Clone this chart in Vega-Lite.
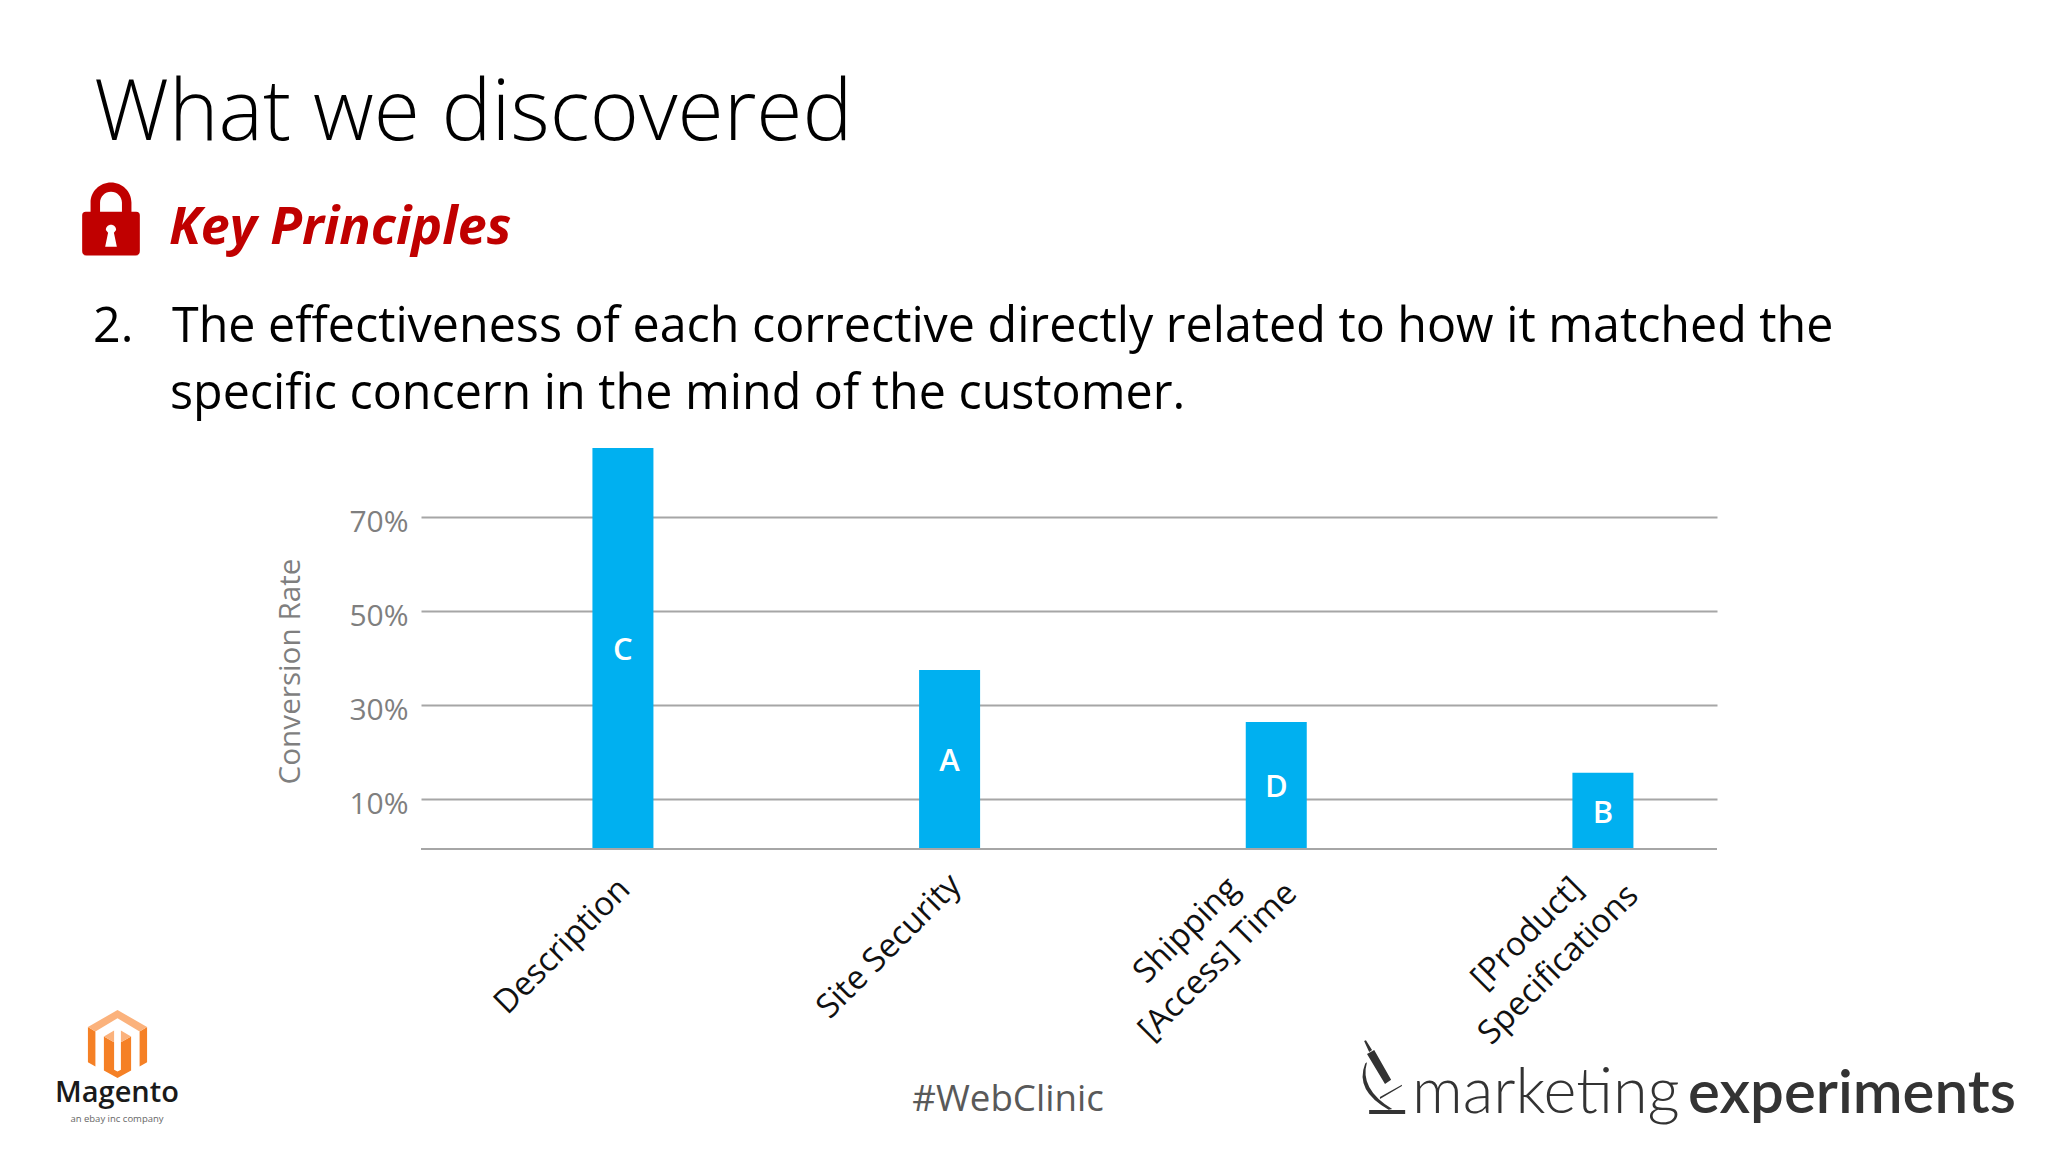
{
  "$schema": "https://vega.github.io/schema/vega-lite/v6.json",
  "width": 1296,
  "height": 401,
  "padding": {"left": 421, "top": 448, "right": 331, "bottom": 303},
  "autosize": "none",
  "background": "white",
  "config": {"view": {"stroke": null}, "font": "Open Sans"},
  "datasets": {
    "rates": [
      {"topic": "Description", "rate": 84.7, "treatment": "C"},
      {"topic": "Site Security", "rate": 37.5, "treatment": "A"},
      {"topic": "Shipping|[Access] Time", "rate": 26.4, "treatment": "D"},
      {"topic": "[Product]|Specifications", "rate": 15.6, "treatment": "B"}
    ]
  },
  "layer": [
    {
      "data": {"name": "rates"},
      "mark": {"type": "bar", "width": 61, "color": "#00b0f0"},
      "encoding": {
        "x": {
          "field": "topic",
          "type": "nominal",
          "sort": null,
          "scale": {"type": "point", "padding": 0.4837, "align": 0.639},
          "axis": {
            "title": null,
            "domain": false,
            "ticks": false,
            "labelAngle": -45,
            "labelAlign": "center",
            "labelBaseline": "middle",
            "labelFontSize": 33,
            "labelColor": "#111111",
            "labelPadding": {
              "condition": [
                {"test": "datum.value == 'Shipping|[Access] Time'", "value": 81},
                {"test": "datum.value == '[Product]|Specifications'", "value": 84}
              ],
              "value": 97
            },
            "labelOffset": {
              "condition": [
                {"test": "datum.value == 'Shipping|[Access] Time'", "value": -90},
                {"test": "datum.value == '[Product]|Specifications'", "value": -76}
              ],
              "value": -61
            },
            "labelLimit": 400,
            "labelExpr": "split(datum.label, '|')",
            "labelLineHeight": 44
          }
        },
        "y": {
          "field": "rate",
          "type": "quantitative",
          "scale": {"domain": [-0.6, 84.7], "nice": false, "zero": false},
          "axis": {
            "title": "Conversion Rate",
            "titleColor": "#7f7f7f",
            "titleFontSize": 29.7,
            "titleFontWeight": "normal",
            "titlePadding": 43,
            "titleY": 223,
            "values": [10, 30, 50, 70],
            "format": ".0f",
            "labelExpr": "datum.label + '%'",
            "domain": false,
            "ticks": false,
            "grid": true,
            "gridColor": "#a6a6a6",
            "gridWidth": 2,
            "labelColor": "#7f7f7f",
            "labelFontSize": 30,
            "labelPadding": 13,
            "labelOffset": 5
          }
        },
        "y2": {"datum": -0.6}
      }
    },
    {
      "data": {"name": "rates"},
      "transform": [{"calculate": "datum.rate / 2", "as": "middle"}],
      "mark": {"type": "text", "color": "white", "fontSize": 31, "fontWeight": 600, "dy": 4},
      "encoding": {
        "x": {"field": "topic", "type": "nominal", "sort": null},
        "y": {"field": "middle", "type": "quantitative"},
        "text": {"field": "treatment"}
      }
    },
    {
      "data": {"values": [{"floor": -0.6}]},
      "mark": {"type": "rule", "color": "#a6a6a6", "strokeWidth": 2},
      "encoding": {"y": {"field": "floor", "type": "quantitative"}}
    },
    {
      "data": {"values": [{"line": "What we discovered"}]},
      "mark": {"type": "text", "align": "left", "baseline": "alphabetic", "fontSize": 84, "fontWeight": 300, "color": "#000000", "x": -327, "y": -308},
      "encoding": {"text": {"field": "line"}}
    },
    {
      "data": {"values": [{"line": "2."}]},
      "mark": {"type": "text", "align": "left", "baseline": "alphabetic", "fontSize": 48.4, "color": "#000000", "x": -328, "y": -106},
      "encoding": {"text": {"field": "line"}}
    },
    {
      "data": {"values": [{"line": "The effectiveness of each corrective directly related to how it matched the"}]},
      "mark": {"type": "text", "align": "left", "baseline": "alphabetic", "fontSize": 48.4, "color": "#000000", "x": -249, "y": -106},
      "encoding": {"text": {"field": "line"}}
    },
    {
      "data": {"values": [{"line": "specific concern in the mind of the customer."}]},
      "mark": {"type": "text", "align": "left", "baseline": "alphabetic", "fontSize": 48.4, "color": "#000000", "x": -251, "y": -39},
      "encoding": {"text": {"field": "line"}}
    },
    {
      "data": {"values": [{"line": "Key Principles"}]},
      "mark": {"type": "text", "align": "left", "baseline": "alphabetic", "fontSize": 52, "fontWeight": "bold", "fontStyle": "italic", "color": "#c00000", "x": -252, "y": -204},
      "encoding": {"text": {"field": "line"}}
    },
    {
      "data": {"values": [{"icon": "lock"}]},
      "mark": {
        "type": "point", "filled": true, "opacity": 1, "color": "#c00000", "size": 5329, "x": -310, "y": -229,
        "shape": "M-.79,-.1Q-.79,-.2,-.69,-.2L.69,-.2Q.79,-.2,.79,-.1L.79,.88Q.79,1,.67,1L-.67,1Q-.79,1,-.79,.88ZM-.56,-.2L-.56,-.45A.56,.55,0,0,1,.56,-.45L.56,-.2L.3,-.2L.3,-.45A.3,.3,0,0,0,-.3,-.45L-.3,-.2Z"
      }
    },
    {
      "data": {"values": [{"icon": "keyhole"}]},
      "mark": {
        "type": "point", "filled": true, "opacity": 1, "color": "#ffffff", "size": 5329, "x": -310, "y": -229,
        "shape": "M-.14,.3A.14,.14,0,1,1,.14,.3L.08,.38L.16,.76L-.16,.76L-.08,.38Z"
      }
    },
    {
      "data": {"values": [{"icon": "magento sides"}]},
      "mark": {
        "type": "point", "filled": true, "opacity": 1, "color": "#f58025", "size": 4624, "x": -303.5, "y": 596,
        "shape": "M-.87,-.5L-.65,-.37L-.65,.66L-.87,.54ZM.87,-.5L.65,-.37L.65,.66L.87,.54ZM-.4,-.22L-.1,-.05L-.1,.76L0,.81L0,1L-.4,.78ZM.4,-.22L.1,-.05L.1,.76L0,.81L0,1L.4,.78Z"
      }
    },
    {
      "data": {"values": [{"icon": "magento top"}]},
      "mark": {
        "type": "point", "filled": true, "opacity": 1, "color": "#fbb27c", "size": 4624, "x": -303.5, "y": 596,
        "shape": "M0,-1L.87,-.5L.65,-.37L0,-.76L-.65,-.37L-.87,-.5ZM-.4,-.22L-.1,-.4L-.1,-.05ZM.4,-.22L.1,-.4L.1,-.05Z"
      }
    },
    {
      "data": {"values": [{"line": "Magento"}]},
      "mark": {"type": "text", "align": "center", "baseline": "alphabetic", "fontSize": 29, "fontWeight": 600, "color": "#1a1a1a", "x": -304, "y": 654},
      "encoding": {"text": {"field": "line"}}
    },
    {
      "data": {"values": [{"line": "an ebay inc company"}]},
      "mark": {"type": "text", "align": "center", "baseline": "alphabetic", "fontSize": 9.5, "color": "#666666", "x": -304, "y": 674},
      "encoding": {"text": {"field": "line"}}
    },
    {
      "data": {"values": [{"line": "#WebClinic"}]},
      "mark": {"type": "text", "align": "center", "baseline": "alphabetic", "fontSize": 36.7, "color": "#595959", "x": 587, "y": 663},
      "encoding": {"text": {"field": "line"}}
    },
    {
      "data": {"values": [{"icon": "microscope"}]},
      "mark": {
        "type": "point", "filled": true, "opacity": 1, "color": "#333333", "size": 5184, "x": 964, "y": 630,
        "shape": "M-.5,-.67L-.3,-.78L.17,.05L0,.17ZM-.58,-1.03L-.53,-1.05L-.36,-.78L-.44,-.72ZM-.5,-.44Q-.72,.3,.2,.86L.1,.88Q-.85,.35,-.55,-.4ZM-.44,.89L.56,.89L.56,1L-.44,1ZM-.14,.53L.47,.19L.47,.22L-.14,.58Z"
      }
    },
    {
      "data": {"values": [{"line": "marketing"}]},
      "mark": {"type": "text", "font": "Lato", "align": "left", "baseline": "alphabetic", "fontSize": 63, "fontWeight": 300, "color": "#333333", "x": 991, "y": 665},
      "encoding": {"text": {"field": "line"}}
    },
    {
      "data": {"values": [{"line": "experiments"}]},
      "mark": {"type": "text", "font": "Lato", "align": "left", "baseline": "alphabetic", "fontSize": 60, "fontWeight": 600, "color": "#333333", "x": 1267, "y": 665},
      "encoding": {"text": {"field": "line"}}
    }
  ]
}
